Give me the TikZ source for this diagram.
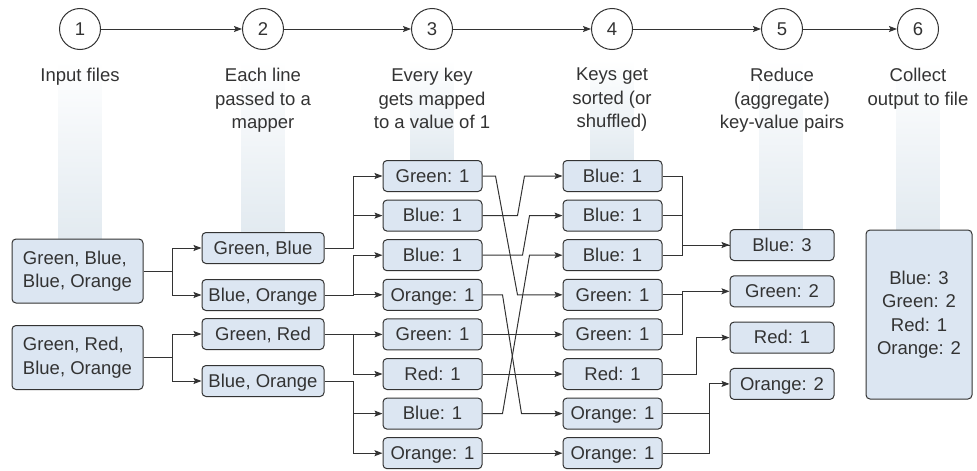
\documentclass[tikz,border=0pt]{standalone}
\usepackage{fontspec}
\setmainfont{Liberation Sans}
\usetikzlibrary{positioning, arrows.meta, backgrounds}
\definecolor{boxblue}{HTML}{DCE6F2}
\definecolor{barblue}{HTML}{E2EAF0}
\definecolor{ink}{HTML}{333333}

\begin{document}
\begin{tikzpicture}[
  x=1pt, y=-1pt,
  node distance=7.6pt,
  every node/.style={font=\fontsize{18.5}{23.5}\selectfont, text=ink},
  box/.style={draw=ink, line width=1pt, rounded corners=4pt, fill=boxblue, align=center, minimum height=31pt, inner sep=0pt},
  onebox/.style={box, text height=16.7pt, text depth=4pt},
  keybox/.style={onebox, minimum width=99pt},
  stage/.style={draw=ink, line width=1pt, circle, minimum size=41pt, inner sep=0pt},
  caption/.style={align=center, inner sep=0pt},
  arrow/.style={-{Stealth[length=8pt, width=6pt, inset=1.5pt]}, line width=1pt, draw=ink},
  link/.style={line width=1pt, draw=ink},
  bar/.style={top color=white, bottom color=barblue},
]
\useasboundingbox (0,0) rectangle (977,471);

% Stages
\node[stage] (s1) at (80,29) {1};
\node[stage] (s2) at (263,29) {2};
\node[stage] (s3) at (432,29) {3};
\node[stage] (s4) at (612,29) {4};
\node[stage] (s5) at (782,29) {5};
\node[stage] (s6) at (918,29) {6};

\draw[arrow] (s1) -- (s2);
\draw[arrow] (s2) -- (s3);
\draw[arrow] (s3) -- (s4);
\draw[arrow] (s4) -- (s5);
\draw[arrow] (s5) -- (s6);

% Captions
\node[caption, below=18pt of s1] (l1) {Input files};
\node[caption, below=18pt of s2] (l2) {Each line\\passed to a\\mapper};
\node[caption, below=18pt of s3] (l3) {Every key\\gets mapped\\to a value of 1};
\node[caption, below=18pt of s4] (l4) {Keys get\\sorted (or\\shuffled)};
\node[caption, below=18pt of s5] (l5) {Reduce\\(aggregate)\\key-value pairs};
\node[caption, below=18pt of s6] (l6) {Collect\\output to file};

% Input files
\node[box, align=left, minimum width=131pt, minimum height=64pt] (in1) at (77.5,271) {Green, Blue,\\Blue, Orange};
\node[box, align=left, minimum width=131pt, minimum height=64pt] (in2) at (77.5,357.5) {Green, Red,\\Blue, Orange};

% Mappers
\node[onebox, minimum width=122pt] (m1) at (263,248) {Green, Blue};
\node[onebox, minimum width=122pt] (m2) at (263,295) {Blue, Orange};
\node[onebox, minimum width=122pt] (m3) at (263,334) {Green, Red};
\node[onebox, minimum width=122pt] (m4) at (263,381) {Blue, Orange};

% Map output
\node[keybox] (k1) at (432.5,176) {Green: 1};
\node[keybox, below=of k1] (k2) {Blue: 1};
\node[keybox, below=of k2] (k3) {Blue: 1};
\node[keybox, below=of k3] (k4) {Orange: 1};
\node[keybox, below=of k4] (k5) {Green: 1};
\node[keybox, below=of k5] (k6) {Red: 1};
\node[keybox, below=of k6] (k7) {Blue: 1};
\node[keybox, below=of k7] (k8) {Orange: 1};

% Sorted
\node[keybox, right=80pt of k1] (t1) {Blue: 1};
\node[keybox, right=80pt of k2] (t2) {Blue: 1};
\node[keybox, right=80pt of k3] (t3) {Blue: 1};
\node[keybox, right=80pt of k4] (t4) {Green: 1};
\node[keybox, right=80pt of k5] (t5) {Green: 1};
\node[keybox, right=80pt of k6] (t6) {Red: 1};
\node[keybox, right=80pt of k7] (t7) {Orange: 1};
\node[keybox, right=80pt of k8] (t8) {Orange: 1};

% Reduced
\node[onebox, minimum width=104pt] (r1) at (782,245) {Blue: 3};
\node[onebox, minimum width=104pt, below=14.3pt of r1] (r2) {Green: 2};
\node[onebox, minimum width=104pt, below=14.3pt of r2] (r3) {Red: 1};
\node[onebox, minimum width=104pt, below=14.3pt of r3] (r4) {Orange: 2};

% Output file
\node[box, minimum width=106pt, minimum height=169pt] (out) at (919,314.5) {Blue: 3\\Green: 2\\Red: 1\\Orange: 2};

% Splitting the input
\draw[arrow] (in1.east) -- ++(29,0) |- (m1.west);
\draw[arrow] (in1.east) -- ++(29,0) |- (m2.west);
\draw[arrow] (in2.east) -- ++(29,0) |- (m3.west);
\draw[arrow] (in2.east) -- ++(29,0) |- (m4.west);

% Mapping
\draw[arrow] (m1.east) -- ++(29,0) |- (k1.west);
\draw[arrow] (m1.east) -- ++(29,0) |- (k2.west);
\draw[arrow] (m2.east) -- ++(29,0) |- (k3.west);
\draw[arrow] (m2.east) -- ++(29,0) |- (k4.west);
\draw[arrow] (m3.east) -- ++(29,0) |- (k5.west);
\draw[arrow] (m3.east) -- ++(29,0) |- (k6.west);
\draw[arrow] (m4.east) -- ++(29,0) |- (k7.west);
\draw[arrow] (m4.east) -- ++(29,0) |- (k8.west);

% Shuffling
\draw[arrow] (k1.east) -- ++(13,0) -- ([xshift=-45pt]t4.west) -- (t4.west);
\draw[arrow] (k2.east) -- ++(35,0) -- ([xshift=-38pt]t1.west) -- (t1.west);
\draw[arrow] (k3.east) -- ++(40,0) -- ([xshift=-33pt]t2.west) -- (t2.west);
\draw[arrow] (k4.east) -- ++(20,0) -- ([xshift=-41pt]t7.west) -- (t7.west);
\draw[arrow] (k5.east) -- (t5.west);
\draw[arrow] (k6.east) -- (t6.west);
\draw[arrow] (k7.east) -- ++(20,0) -- ([xshift=-33pt]t3.west) -- (t3.west);
\draw[arrow] (k8.east) -- (t8.west);

% Reducing
\draw[link] (t2.east) -- ++(20,0);
\draw[link] (t3.east) -- ++(20,0) |- (r1.west);
\draw[arrow] (t1.east) -- ++(20,0) |- (r1.west);
\draw[link] (t4.east) -- ++(20,0);
\draw[arrow] (t5.east) -- ++(20,0) |- (r2.west);
\draw[arrow] (t6.east) -- ++(34,0) |- (r3.west);
\draw[link] (t7.east) -- ++(47,0);
\draw[arrow] (t8.east) -- ++(47,0) |- (r4.west);

% Shaded columns
\begin{scope}[on background layer]
\foreach \x/\y in {80/239, 263/232, 432/160, 612/160, 781/229, 918/230}
  \shade[bar] (\x-21.5,60) rectangle (\x+21.5,\y);
\end{scope}

\end{tikzpicture}
\end{document}
